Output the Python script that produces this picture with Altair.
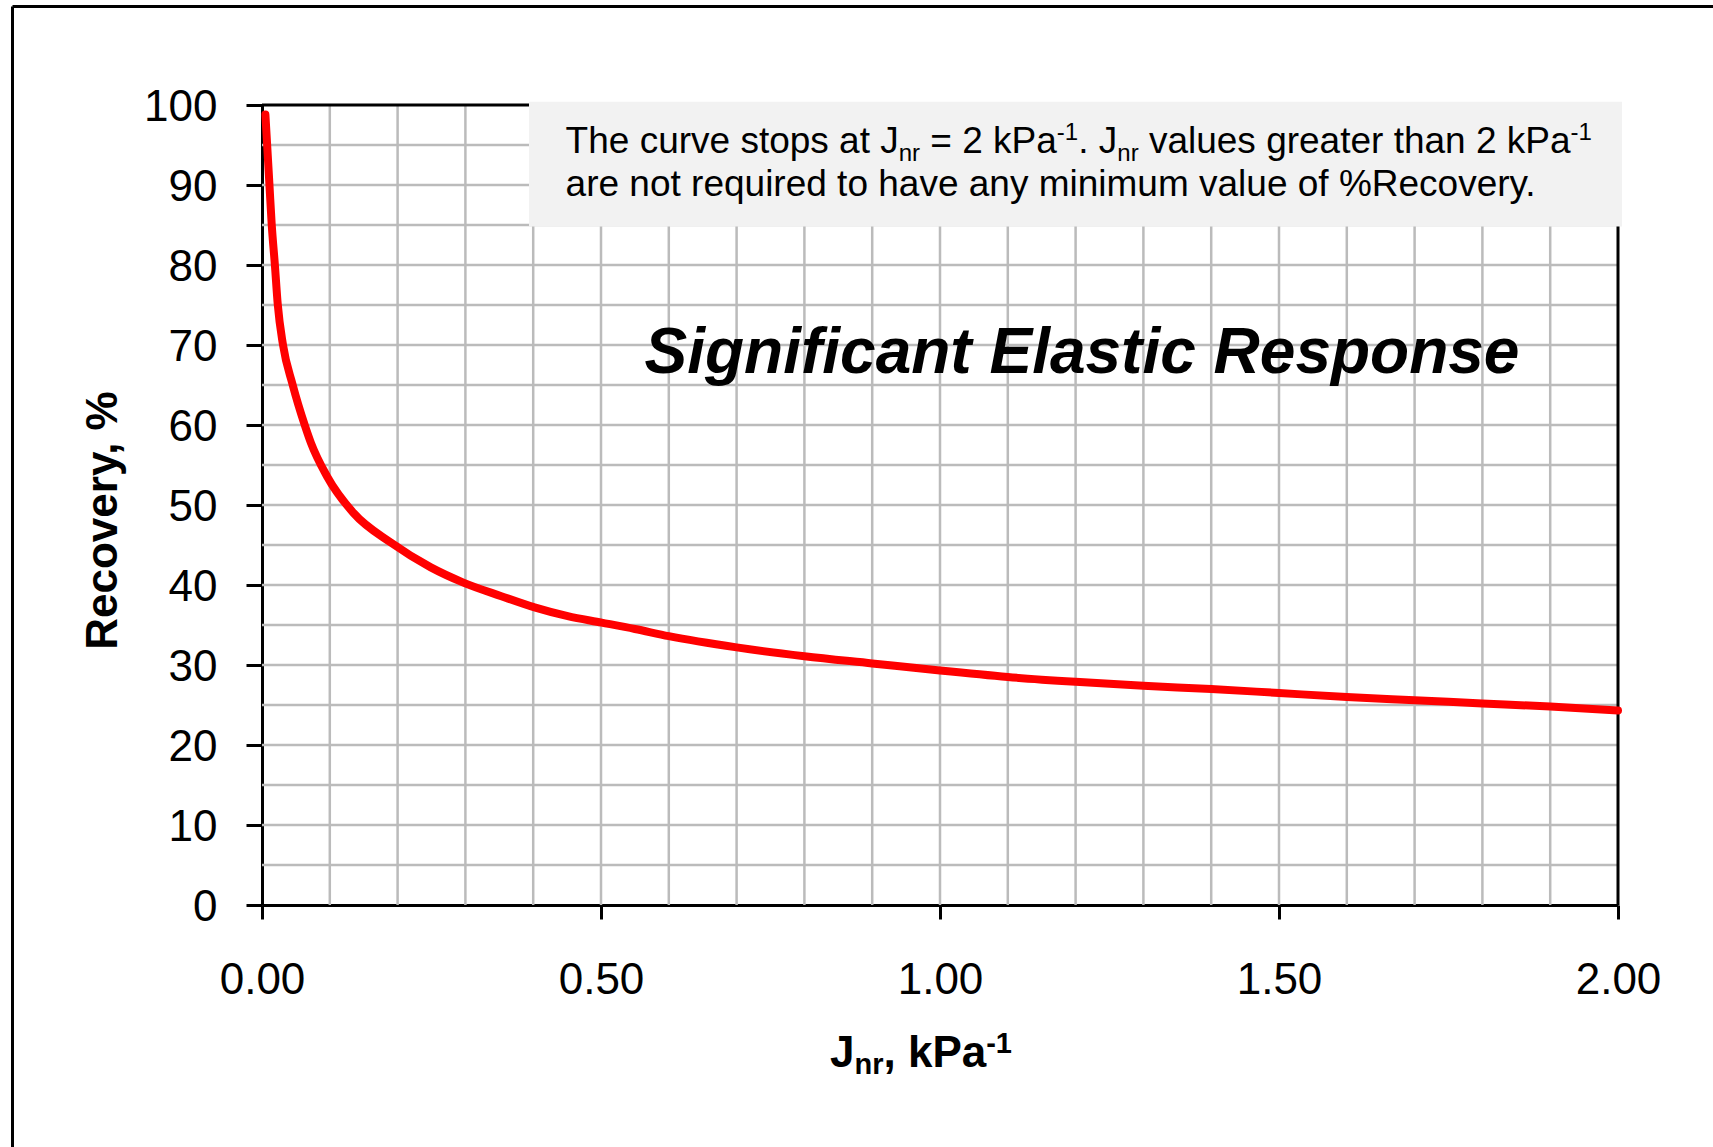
import altair as alt
import pandas as pd

# ---------------- data ----------------
jnr = [0.005, 0.011, 0.0143, 0.019, 0.0232, 0.031, 0.045, 0.063, 0.072, 0.0958,
       0.135, 0.190, 0.249, 0.297, 0.353, 0.402, 0.451, 0.501, 0.550, 0.600,
       0.70, 0.80, 0.90, 1.00, 1.10, 1.20, 1.30, 1.40, 1.50, 1.60, 1.70, 1.80, 1.90, 2.00]
recovery = [98.8, 90.0, 85.1, 80.0, 75.1, 70.0, 65.1, 60.0, 57.8, 53.6,
            49.0, 45.3, 42.2, 40.3, 38.6, 37.2, 36.1, 35.3, 34.5, 33.6,
            32.2, 31.1, 30.2, 29.3, 28.5, 27.9, 27.4, 27.0, 26.5, 26.0, 25.6, 25.2, 24.8, 24.3]

x_ticks = [0.0, 0.5, 1.0, 1.5, 2.0]
y_ticks = [0, 10, 20, 30, 40, 50, 60, 70, 80, 90, 100]
x_grid = [0.1, 0.2, 0.3, 0.4, 0.5, 0.6, 0.7, 0.8, 0.9, 1.0,
          1.1, 1.2, 1.3, 1.4, 1.5, 1.6, 1.7, 1.8, 1.9]
y_grid = [5, 10, 15, 20, 25, 30, 35, 40, 45, 50, 55, 60, 65, 70, 75, 80, 85, 90, 95]

title_text = "Significant Elastic Response"
x_title_parts = [("J", "n"), ("nr", "sub"), (", kPa", "n"), ("-1", "sup")]
y_title_text = "Recovery, %"
note_line1 = [("The curve stops at J", "n"), ("nr", "sub"), (" = 2 kPa", "n"), ("-1", "sup"),
              (". J", "n"), ("nr", "sub"), (" values greater than 2 kPa", "n"), ("-1", "sup")]
note_line2 = "are not required to have any minimum value of %Recovery."

FONT = "Liberation Sans, Arial, sans-serif"

# Arial / Liberation Sans advance widths (per 1000 em)
W_REG = {' ': 278, '%': 889, ',': 278, '-': 333, '.': 278, '=': 584,
         'J': 500, 'P': 667, 'R': 722, 'T': 611,
         'a': 556, 'b': 556, 'c': 500, 'd': 556, 'e': 556, 'f': 278, 'g': 556, 'h': 556,
         'i': 222, 'j': 222, 'k': 500, 'l': 222, 'm': 833, 'n': 556, 'o': 556, 'p': 556,
         'q': 556, 'r': 333, 's': 500, 't': 278, 'u': 556, 'v': 500, 'w': 722, 'x': 500,
         'y': 500, 'z': 500}
for d in "0123456789":
    W_REG[d] = 556
W_BOLD = {' ': 278, ',': 278, '-': 333, '.': 278, 'J': 556, 'P': 667, 'a': 556, 'k': 556,
          'n': 611, 'r': 389}
for d in "0123456789":
    W_BOLD[d] = 556


def text_width(s, size, table):
    return sum(table.get(c, 556) for c in s) / 1000.0 * size


def text_layer(s, x, y, size, weight="normal", style="normal", angle=0, align="left"):
    return alt.Chart(pd.DataFrame({"t": [s]})).mark_text(
        font=FONT, fontSize=size, fontWeight=weight, fontStyle=style,
        align=align, baseline="alphabetic", angle=angle, color="black"
    ).encode(x=alt.value(x), y=alt.value(y), text="t:N")


def rich_line(parts, x0, y0, size, sub_size, drop, rise, weight, table):
    # Vega trims whitespace from text, so leading spaces become an x shift
    layers = []
    x = x0
    for s, kind in parts:
        if kind == "n":
            fs, dy = size, 0
        elif kind == "sub":
            fs, dy = sub_size, drop
        else:
            fs, dy = sub_size, -rise
        lead = len(s) - len(s.lstrip(" "))
        shift = text_width(" " * lead, fs, table)
        layers.append(text_layer(s.strip(" "), x + shift, y0 + dy, fs, weight=weight))
        x += text_width(s, fs, table)
    return layers


xs = alt.Scale(domain=[0, 2], nice=False, zero=False)
ys = alt.Scale(domain=[0, 100], nice=False, zero=False)

x_axis = alt.Axis(
    title=None, values=x_ticks, format=".2f", grid=False,
    labelFont=FONT, labelFontSize=44, labelColor="black", labelPadding=39,
    labelFlush=False, labelOverlap=False,
    tickColor="black", tickSize=14, tickWidth=3,
    domainColor="black", domainWidth=3)
y_axis = alt.Axis(
    title=None, values=y_ticks, format="d", grid=False,
    labelFont=FONT, labelFontSize=44, labelColor="black", labelPadding=29,
    labelOffset=2, labelFlush=False, labelOverlap=False,
    tickColor="black", tickSize=16, tickWidth=3,
    domainColor="black", domainWidth=3)

GRID = "#bbbbbb"

vgrid = alt.Chart(pd.DataFrame({"gx": x_grid, "lo": [0] * len(x_grid), "hi": [100] * len(x_grid)})).mark_rule(
    color=GRID, strokeWidth=2.5
).encode(
    x=alt.X("gx:Q", scale=xs, axis=x_axis),
    y=alt.Y("lo:Q", scale=ys, axis=y_axis),
    y2="hi:Q",
)

hgrid = alt.Chart(pd.DataFrame({"gy": y_grid, "lo": [0] * len(y_grid), "hi": [2] * len(y_grid)})).mark_rule(
    color=GRID, strokeWidth=2.5
).encode(
    y=alt.Y("gy:Q", scale=ys, axis=y_axis),
    x=alt.X("lo:Q", scale=xs, axis=x_axis),
    x2="hi:Q",
)

top_frame = alt.Chart(pd.DataFrame({"fy": [100], "lo": [0], "hi": [2]})).mark_rule(
    color="black", strokeWidth=3
).encode(
    y=alt.Y("fy:Q", scale=ys, axis=y_axis),
    x=alt.X("lo:Q", scale=xs, axis=x_axis),
    x2="hi:Q",
)

right_frame = alt.Chart(pd.DataFrame({"fx": [2], "lo": [0], "hi": [100]})).mark_rule(
    color="black", strokeWidth=3
).encode(
    x=alt.X("fx:Q", scale=xs, axis=x_axis),
    y=alt.Y("lo:Q", scale=ys, axis=y_axis),
    y2="hi:Q",
)

note_box = alt.Chart(pd.DataFrame({"t": [""]})).mark_rect(color="#f2f2f2").encode(
    x=alt.value(267), x2=alt.value(1360), y=alt.value(-3.3), y2=alt.value(121.5)
)

curve = alt.Chart(pd.DataFrame({"jnr": jnr, "rec": recovery})).mark_line(
    color="#ff0000", strokeWidth=8, strokeCap="round", strokeJoin="round", interpolate="monotone"
).encode(
    x=alt.X("jnr:Q", scale=xs, axis=x_axis),
    y=alt.Y("rec:Q", scale=ys, axis=y_axis),
)

outer_left = alt.Chart(pd.DataFrame({"t": [""]})).mark_rule(color="black", strokeWidth=3).encode(
    x=alt.value(-249.5), y=alt.value(-98.5), y2=alt.value(1050)
)
outer_top = alt.Chart(pd.DataFrame({"t": [""]})).mark_rule(color="black", strokeWidth=3).encode(
    y=alt.value(-98.5), x=alt.value(-249.5), x2=alt.value(1460)
)

texts = []
texts += rich_line(note_line1, 303.6, 48.3, 37, 24, 8, 13, "normal", W_REG)
texts.append(text_layer(note_line2, 303.6, 91, 37))
texts.append(text_layer(title_text, 820, 268, 64, weight="bold", style="italic", align="center"))
texts += rich_line(x_title_parts, 568, 961.7, 44, 29, 7, 14, "bold", W_BOLD)
texts.append(text_layer(y_title_text, -145, 415.5, 44, weight="bold", angle=270, align="center"))

chart = alt.layer(
    vgrid, hgrid, top_frame, right_frame, note_box, curve, outer_left, outer_top, *texts
).properties(
    width=1356, height=800,
    padding={"left": 262, "top": 105, "right": 95, "bottom": 242},
    autosize=alt.AutoSizeParams(type="none"),
    background="white",
).configure_view(strokeWidth=0)

chart.save("out.html", embed_options={"renderer": "svg", "actions": False})
